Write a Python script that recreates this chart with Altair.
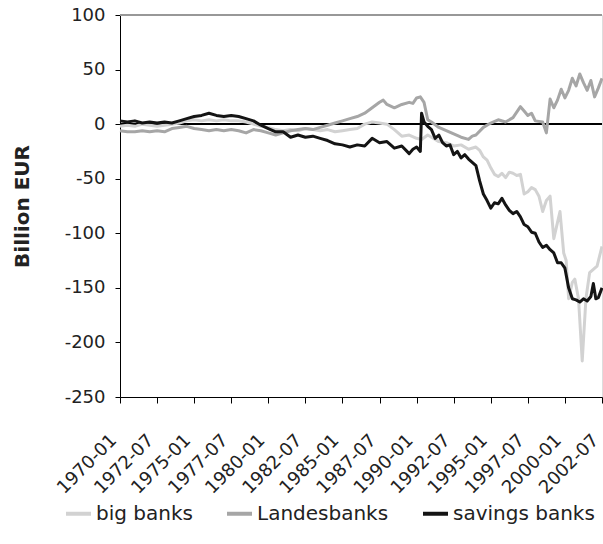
import altair as alt
import pandas as pd

big_months = ["1970-01","1970-07","1971-01","1971-07","1972-01","1972-07","1973-01","1973-07",
    "1974-01","1974-07","1975-01","1975-07","1976-01","1976-07","1977-01","1977-07","1978-01","1978-07",
    "1979-01","1979-07","1980-01","1980-07","1981-01","1981-07","1982-01","1982-07","1983-01","1983-07",
    "1984-01","1984-07","1985-01","1985-07","1986-01","1986-07","1987-01","1987-07","1988-01","1988-07",
    "1989-01","1989-07","1990-01","1990-05","1990-10","1991-01","1991-07","1992-01","1992-07","1993-01",
    "1993-07","1994-01","1994-04","1994-07","1994-10","1995-01","1995-04","1995-07","1995-10","1996-01",
    "1996-04","1996-07","1996-10","1997-01","1997-04","1997-07","1997-10","1998-01","1998-04","1998-07",
    "1998-10","1999-01","1999-04","1999-07","1999-09","1999-12","2000-02","2000-04","2000-07","2000-09",
    "2000-12","2001-03","2001-06","2001-09","2001-12","2002-03","2002-07"]
big_values = [-2,-1,-2,0,-1,-2,-1,0,
    1,3,4,3,4,3,4,3,3,2,
    0,-2,-3,-5,-6,-5,-6,-4,-5,-6,
    -5,-7,-6,-5,-4,0,2,1,0,-5,
    -11,-10,-13,-14,-10,-12,-16,-17,-20,-19,
    -23,-21,-24,-30,-33,-40,-46,-48,-45,-49,
    -44,-45,-47,-46,-64,-62,-58,-60,-66,-80,
    -70,-66,-105,-90,-80,-118,-125,-160,-145,-142,
    -160,-217,-160,-136,-133,-130,-112]

lb_months = ["1970-01","1970-07","1971-01","1971-07","1972-01","1972-07","1973-01","1973-07",
    "1974-01","1974-07","1975-01","1975-07","1976-01","1976-07","1977-01","1977-07","1978-01","1978-07",
    "1979-01","1979-07","1980-01","1980-07","1981-01","1981-07","1982-01","1982-07","1983-01","1983-07",
    "1984-01","1984-07","1985-01","1985-07","1986-01","1986-07","1987-01","1987-07","1987-10","1988-01",
    "1988-07","1989-01","1989-07","1989-10","1990-01","1990-04","1990-07","1990-10","1991-01","1991-07",
    "1992-01","1992-07","1993-01","1993-07","1993-10","1994-01","1994-07","1995-01","1995-07","1996-01",
    "1996-07","1997-01","1997-04","1997-07","1997-10","1998-01","1998-07","1998-10","1999-01","1999-04",
    "1999-07","1999-10","2000-01","2000-04","2000-07","2000-10","2001-01","2001-04","2001-07","2001-10",
    "2002-01","2002-04","2002-07"]
lb_values = [-6,-7,-7,-6,-7,-6,-7,-4,
    -3,-2,-4,-5,-6,-5,-6,-5,-6,-8,
    -5,-6,-8,-10,-8,-6,-5,-4,-5,-3,
    -1,1,3,5,7,10,15,20,22,18,
    15,18,20,19,24,25,20,4,2,-3,
    -6,-9,-12,-14,-11,-10,-3,1,4,2,
    6,16,12,8,10,3,2,-8,23,15,
    22,32,24,31,42,35,46,38,31,40,
    25,33,42]

sav_months = ["1970-01","1970-07","1971-01","1971-07","1972-01","1972-07","1973-01","1973-07",
    "1974-01","1974-07","1975-01","1975-07","1976-01","1976-07","1977-01","1977-07","1978-01","1978-07",
    "1979-01","1979-07","1980-01","1980-07","1981-01","1981-07","1982-01","1982-07","1983-01","1983-07",
    "1984-01","1984-07","1985-01","1985-07","1986-01","1986-07","1987-01","1987-07","1988-01","1988-07",
    "1989-01","1989-07","1989-10","1990-01","1990-04","1990-05","1990-07","1990-10","1991-01","1991-04",
    "1991-07","1991-10","1992-01","1992-04","1992-07","1992-10","1993-01","1993-04","1993-07","1993-10",
    "1994-01","1994-04","1994-07","1994-10","1995-01","1995-04","1995-07","1995-10","1996-01","1996-04",
    "1996-07","1996-10","1997-01","1997-04","1997-07","1997-10","1998-01","1998-04","1998-07","1998-10",
    "1999-01","1999-04","1999-07","1999-10","2000-01","2000-04","2000-07","2000-10","2001-01","2001-04",
    "2001-07","2001-10","2001-12","2002-02","2002-04","2002-07"]
sav_values = [3,2,3,1,2,1,2,1,
    3,5,7,8,10,8,7,8,7,5,
    3,-1,-4,-7,-7,-12,-10,-12,-11,-13,
    -15,-18,-19,-21,-19,-20,-13,-17,-16,-22,
    -20,-27,-23,-21,-25,10,2,-2,-5,-13,
    -10,-17,-20,-19,-28,-25,-31,-28,-32,-35,
    -38,-52,-64,-70,-77,-72,-73,-68,-74,-79,
    -82,-80,-85,-92,-94,-99,-100,-108,-113,-111,
    -115,-118,-127,-127,-132,-150,-160,-161,-163,-160,
    -162,-158,-146,-160,-159,-150]

series_names = ["big banks", "Landesbanks", "savings banks"]
series_colors = ["#d2d2d2", "#a6a6a6", "#141414"]
x_tick_months = list(range(0, 391, 30))
y_ticks = [-250, -200, -150, -100, -50, 0, 50, 100]


def month_index(s):
    y, m = s.split("-")
    return (int(y) - 1970) * 12 + int(m) - 1


rows = []
for name, months, values in [(series_names[0], big_months, big_values),
                             (series_names[1], lb_months, lb_values),
                             (series_names[2], sav_months, sav_values)]:
    for k, (mo, v) in enumerate(zip(months, values)):
        rows.append({"series": name, "t": month_index(mo), "value": v, "order": k})
df = pd.DataFrame(rows)

FONT = "DejaVu Sans"

label_expr = ("toString(1970 + floor(datum.value / 12)) + '-' + "
              "((datum.value % 12) + 1 < 10 ? '0' : '') + toString((datum.value % 12) + 1)")

lines = alt.Chart(df).mark_line(strokeWidth=3, strokeJoin="round").encode(
    x=alt.X("t:Q", scale=alt.Scale(domain=[0, 390], nice=False, zero=False),
            axis=alt.Axis(values=x_tick_months, labelExpr=label_expr, labelAngle=-45,
                          labelAlign="right", labelBaseline="alphabetic", labelPadding=38,
                          labelOffset=-3,
                          tickSize=6, grid=False, title=None, domainColor="#000",
                          tickColor="#000", labelFont=FONT, labelFontSize=18,
                          labelColor="#222", labelOverlap=False, labelBound=False)),
    y=alt.Y("value:Q", scale=alt.Scale(domain=[-250, 100], nice=False),
            axis=alt.Axis(values=y_ticks, labelExpr="toString(datum.value)", tickSize=5,
                          labelPadding=10, grid=False,
                          title="Billion EUR", titleFont=FONT, titleFontSize=20,
                          titleFontWeight="bold", titleColor="#222", titleX=-98, titleY=191,
                          titleAngle=-90, titleAlign="center", titleBaseline="middle",
                          domainColor="#000", tickColor="#000", labelFont=FONT,
                          labelFontSize=18, labelColor="#222")),
    color=alt.Color("series:N", scale=alt.Scale(domain=series_names, range=series_colors),
                    legend=alt.Legend(title=None, orient="none", direction="horizontal",
                                      columns=3, legendX=-56, legendY=484,
                                      symbolType="stroke", symbolSize=625,
                                      symbolStrokeWidth=4, labelFont=FONT,
                                      labelFontSize=20, labelColor="#222",
                                      labelOffset=3, columnPadding=26)),
    order="order:Q",
)

zero_rule = alt.Chart(df).mark_rule(color="#000", strokeWidth=1).encode(y=alt.datum(0))
top_rule = alt.Chart(df).mark_rule(color="#999", strokeWidth=1.5).encode(y=alt.datum(100))

chart = alt.layer(top_rule, zero_rule, lines).properties(
    width=482, height=382,
    autosize=alt.AutoSizeParams(type="none"),
    padding={"left": 120, "top": 15, "right": 1, "bottom": 147},
).configure_view(stroke=None).configure(background="white")

chart.save("out.html", embed_options={"renderer": "svg", "actions": False})
